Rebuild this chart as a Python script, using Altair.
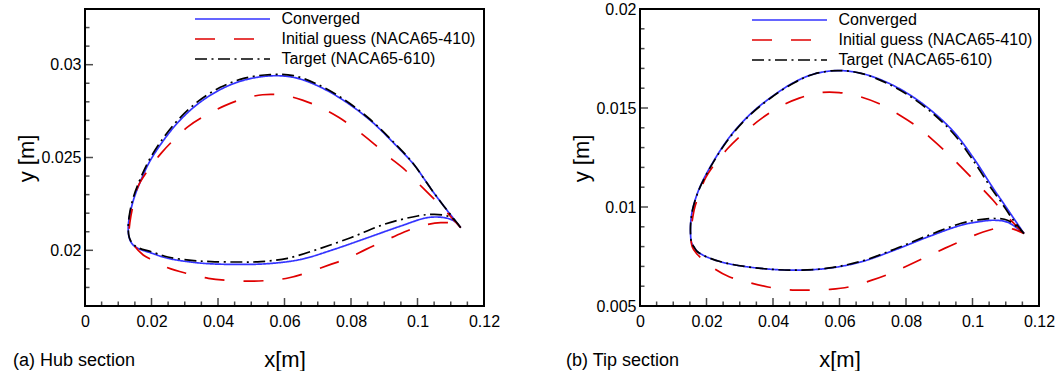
import altair as alt
import pandas as pd

FONT = "Liberation Sans"

SERIES = ["Converged", "Initial guess (NACA65-410)", "Target (NACA65-610)"]
COLORS = ["#3333ff", "#e00000", "#000000"]
DASHES = [[1, 0], [20, 19], [12, 4.5, 2, 4.5]]

# ---------------- Hub section (a) ----------------
hub_conv_x = [0.1130, 0.1100, 0.1075, 0.1045, 0.1020, 0.0990, 0.0930, 0.0860, 0.0780, 0.0700,
              0.0629, 0.0559, 0.0479, 0.0409, 0.0339, 0.0279, 0.0228, 0.0193, 0.0168, 0.0148,
              0.0135, 0.0130,
              0.0133, 0.0143, 0.0160, 0.0200, 0.0249, 0.0349, 0.0449, 0.0549, 0.0649, 0.0749,
              0.0850, 0.0950, 0.1030, 0.1080, 0.1110, 0.1130]
hub_conv_y = [0.02122, 0.02190, 0.02248, 0.02320, 0.02385, 0.02460, 0.02575, 0.02697, 0.02805, 0.02886,
              0.02931, 0.02940, 0.02917, 0.02868, 0.02788, 0.02688, 0.02572, 0.02473, 0.02377, 0.02284,
              0.02194, 0.02122,
              0.02068, 0.02032, 0.02010, 0.01985, 0.01957, 0.01931, 0.01924, 0.01928, 0.01951, 0.02005,
              0.02068, 0.02131, 0.02176, 0.02176, 0.02158, 0.02122]

hub_init_x = [0.1130, 0.1108, 0.1080, 0.1045, 0.1000, 0.0960, 0.0910, 0.0870, 0.0820, 0.0764,
              0.0709, 0.0654, 0.0594, 0.0534, 0.0474, 0.0419, 0.0364, 0.0309, 0.0264, 0.0230,
              0.0188, 0.0158, 0.0143, 0.0135, 0.0133,
              0.0138, 0.0150, 0.0175, 0.0198, 0.0249, 0.0310, 0.0371, 0.0429, 0.0494, 0.0554,
              0.0614, 0.0677, 0.0739, 0.0790, 0.0845, 0.0900, 0.0955, 0.1010, 0.1070, 0.1106, 0.1130]
hub_init_y = [0.02122, 0.02165, 0.02221, 0.02285, 0.02365, 0.02437, 0.02509, 0.02572, 0.02644, 0.02715,
              0.02769, 0.02809, 0.02836, 0.02838, 0.02815, 0.02778, 0.02728, 0.02665, 0.02590, 0.02525,
              0.02428, 0.02338, 0.02230, 0.02150, 0.02100,
              0.02060, 0.02020, 0.01975, 0.01951, 0.01906, 0.01874, 0.01849, 0.01838, 0.01834, 0.01838,
              0.01852, 0.01885, 0.01924, 0.01957, 0.02005, 0.02050, 0.02095, 0.02131, 0.02149, 0.02145, 0.02122]

hub_targ_x = [0.1130, 0.1098, 0.1072, 0.1042, 0.1017, 0.0987, 0.0927, 0.0857, 0.0777, 0.0697,
              0.0627, 0.0557, 0.0477, 0.0407, 0.0337, 0.0277, 0.0226, 0.0191, 0.0166, 0.0146,
              0.0134, 0.0130,
              0.0133, 0.0143, 0.0160, 0.0200, 0.0249, 0.0320, 0.0379, 0.0460, 0.0529, 0.0609,
              0.0699, 0.0799, 0.0900, 0.1000, 0.1050, 0.1090, 0.1110, 0.1130]
hub_targ_y = [0.02122, 0.02195, 0.02255, 0.02328, 0.02392, 0.02468, 0.02585, 0.02706, 0.02815, 0.02896,
              0.02941, 0.02947, 0.02926, 0.02878, 0.02798, 0.02697, 0.02581, 0.02480, 0.02384, 0.02289,
              0.02196, 0.02122,
              0.02070, 0.02036, 0.02014, 0.01992, 0.01964, 0.01946, 0.01939, 0.01937, 0.01939, 0.01957,
              0.02005, 0.02068, 0.02140, 0.02185, 0.02194, 0.02185, 0.02165, 0.02122]

# ---------------- Tip section (b) ----------------
tip_conv_x = [0.1155, 0.1121, 0.1087, 0.1062, 0.1006, 0.0946, 0.0876, 0.0806, 0.0735, 0.0665,
              0.0595, 0.0524, 0.0464, 0.0394, 0.0333, 0.0273, 0.0223, 0.0180, 0.0160, 0.0153, 0.0152,
              0.0155, 0.0162, 0.0173, 0.0205, 0.0263, 0.0363, 0.0464, 0.0564, 0.0665, 0.0765,
              0.0866, 0.0966, 0.1017, 0.1067, 0.1107, 0.1155]
tip_conv_y = [0.00866, 0.00950, 0.01034, 0.01095, 0.01240, 0.01375, 0.01487, 0.01572, 0.01635, 0.01675,
              0.01689, 0.01672, 0.01630, 0.01554, 0.01471, 0.01361, 0.01236, 0.01100, 0.01000, 0.00930, 0.00866,
              0.00820, 0.00799, 0.00774, 0.00745, 0.00715, 0.00690, 0.00681, 0.00690, 0.00723, 0.00782,
              0.00849, 0.00908, 0.00925, 0.00933, 0.00922, 0.00866]

tip_init_x = [0.1155, 0.1120, 0.1087, 0.1062, 0.1002, 0.0961, 0.0926, 0.0871, 0.0836, 0.0785,
              0.0720, 0.0660, 0.0599, 0.0539, 0.0479, 0.0424, 0.0368, 0.0323, 0.0263, 0.0198,
              0.0182, 0.0165, 0.0157, 0.0153,
              0.0157, 0.0170, 0.0218, 0.0268, 0.0325, 0.0385, 0.0449, 0.0509, 0.0572, 0.0630,
              0.0693, 0.0755, 0.0806, 0.0861, 0.0916, 0.0971, 0.1032, 0.1087, 0.1123, 0.1155]
tip_init_y = [0.00866, 0.00925, 0.00984, 0.01034, 0.01140, 0.01210, 0.01269, 0.01353, 0.01403, 0.01460,
              0.01521, 0.01558, 0.01578, 0.01577, 0.01550, 0.01510, 0.01450, 0.01390, 0.01294, 0.01150,
              0.01080, 0.01000, 0.00930, 0.00866,
              0.00800, 0.00765, 0.00695, 0.00648, 0.00620, 0.00596, 0.00582, 0.00580, 0.00584, 0.00597,
              0.00628, 0.00666, 0.00705, 0.00748, 0.00791, 0.00832, 0.00874, 0.00896, 0.00888, 0.00866]

tip_targ_x = [0.1155, 0.1118, 0.1084, 0.1059, 0.1003, 0.0943, 0.0874, 0.0804, 0.0734, 0.0665,
              0.0595, 0.0524, 0.0464, 0.0394, 0.0333, 0.0273, 0.0223, 0.0180, 0.0160, 0.0153, 0.0152,
              0.0155, 0.0162, 0.0173, 0.0205, 0.0263, 0.0363, 0.0464, 0.0564, 0.0665, 0.0765,
              0.0866, 0.0966, 0.1017, 0.1067, 0.1107, 0.1155]
tip_targ_y = [0.00866, 0.00945, 0.01030, 0.01088, 0.01233, 0.01370, 0.01482, 0.01568, 0.01632, 0.01675,
              0.01689, 0.01672, 0.01628, 0.01552, 0.01468, 0.01358, 0.01233, 0.01098, 0.01000, 0.00930, 0.00866,
              0.00820, 0.00799, 0.00774, 0.00745, 0.00715, 0.00690, 0.00681, 0.00691, 0.00726, 0.00787,
              0.00856, 0.00918, 0.00935, 0.00942, 0.00932, 0.00866]

# ---------------- Axis ticks ----------------
X_MAJOR = [0, 0.02, 0.04, 0.06, 0.08, 0.1, 0.12]
X_MINOR = [0.005, 0.01, 0.015, 0.025, 0.03, 0.035, 0.045, 0.05, 0.055, 0.065, 0.07, 0.075,
           0.085, 0.09, 0.095, 0.105, 0.11, 0.115]
HUB_Y_MAJOR = [0.02, 0.025, 0.03]
HUB_Y_MINOR = [0.017, 0.018, 0.019, 0.021, 0.022, 0.023, 0.024, 0.026, 0.027, 0.028, 0.029,
               0.031, 0.032, 0.033]
TIP_Y_MAJOR = [0.005, 0.01, 0.015, 0.02]
TIP_Y_MINOR = [0.006, 0.007, 0.008, 0.009, 0.011, 0.012, 0.013, 0.014, 0.016, 0.017, 0.018, 0.019]

W, H = 399, 297
MAJ, MIN = 8, 4.5


def frame(curves):
    rows = []
    for name, xs, ys in curves:
        for i, (x, y) in enumerate(zip(xs, ys)):
            rows.append({"series": name, "i": i, "x": x, "y": y})
    return pd.DataFrame(rows)


def panel(df, ydom, ymaj, ymin, caption, cap_x, legend_x, legend_y):
    xs = alt.Scale(domain=[0, 0.12], nice=False, zero=False)
    ys = alt.Scale(domain=ydom, nice=False, zero=False)
    xax = alt.Axis(values=X_MAJOR, format=".2~f", title="x[m]", ticks=False, tickSize=0,
                   domain=False, grid=False, labelFlush=False, labelOverlap=False, labelPadding=7,
                   labelFontSize=16, labelFont=FONT, labelColor="black",
                   titleFontSize=22, titleFont=FONT, titleFontWeight="normal", titleColor="black",
                   titleY=53, titleBaseline="middle")
    yax = alt.Axis(values=ymaj, format=".3~f", title="y [m]", ticks=False, tickSize=0,
                   domain=False, grid=False, labelFlush=False, labelOverlap=False, labelPadding=4,
                   labelFontSize=16, labelFont=FONT, labelColor="black",
                   titleFontSize=22, titleFont=FONT, titleFontWeight="normal", titleColor="black",
                   titleX=-59, titleY=149, titleAngle=270, titleAlign="center",
                   titleBaseline="middle")
    leg = alt.Legend(orient="none", legendX=legend_x, legendY=legend_y, title=None,
                     symbolType="stroke", symbolSize=5625, symbolStrokeWidth=1.7,
                     clipHeight=18, rowPadding=2, labelOffset=10.5, padding=0,
                     labelFontSize=16, labelFont=FONT, labelColor="black", labelLimit=400)
    lines = alt.Chart(df).mark_line(strokeWidth=1.7, interpolate="catmull-rom").encode(
        x=alt.X("x:Q", scale=xs, axis=xax),
        y=alt.Y("y:Q", scale=ys, axis=yax),
        color=alt.Color("series:N", scale=alt.Scale(domain=SERIES, range=COLORS), legend=leg),
        strokeDash=alt.StrokeDash("series:N", scale=alt.Scale(domain=SERIES, range=DASHES),
                                  legend=leg),
        order=alt.Order("i:Q"),
    )
    xt_maj = alt.Chart(pd.DataFrame({"x": X_MAJOR})).mark_tick(
        orient="vertical", size=MAJ, thickness=1.5, color="black", yOffset=-MAJ / 2
    ).encode(x=alt.X("x:Q", scale=xs, axis=xax), y=alt.datum(ydom[0]))
    xt_min = alt.Chart(pd.DataFrame({"x": X_MINOR})).mark_tick(
        orient="vertical", size=MIN, thickness=1.5, color="black", yOffset=-MIN / 2
    ).encode(x=alt.X("x:Q", scale=xs, axis=xax), y=alt.datum(ydom[0]))
    yt_maj = alt.Chart(pd.DataFrame({"y": ymaj})).mark_tick(
        orient="horizontal", size=MAJ, thickness=1.5, color="black", xOffset=MAJ / 2
    ).encode(y=alt.Y("y:Q", scale=ys, axis=yax), x=alt.datum(0))
    yt_min = alt.Chart(pd.DataFrame({"y": ymin})).mark_tick(
        orient="horizontal", size=MIN, thickness=1.5, color="black", xOffset=MIN / 2
    ).encode(y=alt.Y("y:Q", scale=ys, axis=yax), x=alt.datum(0))
    cap = alt.Chart(pd.DataFrame({"t": [caption]})).mark_text(
        align="left", baseline="middle", fontSize=18, font=FONT, color="black"
    ).encode(text="t:N", x=alt.value(cap_x), y=alt.value(H + 55))
    return alt.layer(lines, xt_min, xt_maj, yt_min, yt_maj, cap).properties(width=W, height=H)


hub_df = frame([(SERIES[0], hub_conv_x, hub_conv_y),
                (SERIES[1], hub_init_x, hub_init_y),
                (SERIES[2], hub_targ_x, hub_targ_y)])
tip_df = frame([(SERIES[0], tip_conv_x, tip_conv_y),
                (SERIES[1], tip_init_x, tip_init_y),
                (SERIES[2], tip_targ_x, tip_targ_y)])

left = panel(hub_df, [0.017, 0.033], HUB_Y_MAJOR, HUB_Y_MINOR, "(a) Hub section", -72, 109, 1)
right = panel(tip_df, [0.005, 0.02], TIP_Y_MAJOR, TIP_Y_MINOR, "(b) Tip section", -74, 111, 2)

chart = alt.hconcat(left, right, spacing=156, bounds="flush").resolve_scale(
    x="independent", y="independent", color="independent", strokeDash="independent"
).configure_view(stroke="black", strokeWidth=2).properties(
    padding={"left": 12, "top": 0, "right": 0, "bottom": 0}, background="white"
)

chart.save("out.html", embed_options={"renderer": "svg", "actions": False})
